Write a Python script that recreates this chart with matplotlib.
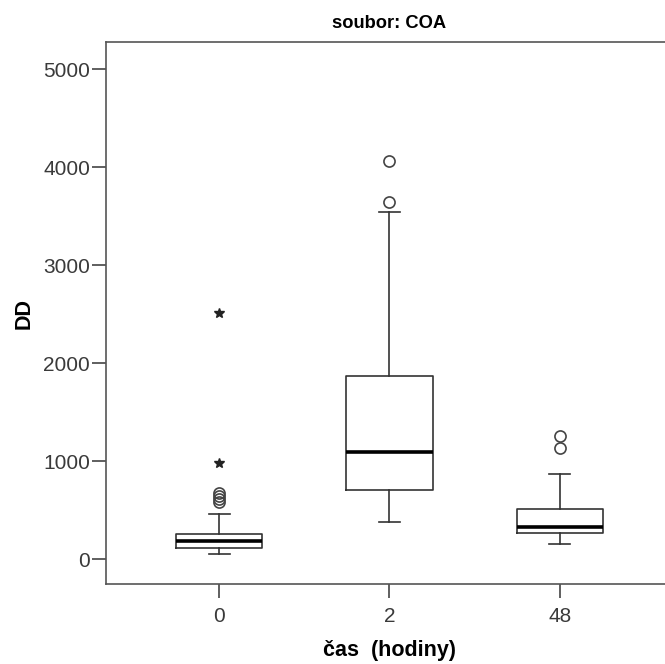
import matplotlib
matplotlib.use('Agg')
from matplotlib import pyplot as plt

plt.rcParams['font.family'] = ['Liberation Sans', 'DejaVu Sans']

groups = ['0', '2', '48']
whis_lo = [51, 378, 153]
q1 = [112, 705, 266]
med = [184, 1094, 327]
q3 = [256, 1871, 511]
whis_hi = [460, 3538, 869]
# mild outliers (circles) and extremes (stars) per group
mild = [[580, 610, 640, 670], [3640, 4059], [1135, 1258]]
extreme = [[982, 2515], [], []]

stats = []
for i, g in enumerate(groups):
    stats.append({'label': g, 'whislo': whis_lo[i], 'q1': q1[i], 'med': med[i],
                  'q3': q3[i], 'whishi': whis_hi[i], 'fliers': mild[i]})

fig = plt.figure(figsize=(6.65, 6.64), dpi=100)
ax = fig.add_axes([0.1594, 0.1205, 0.8526, 0.8162])

line = dict(color='#333333', linewidth=1.2)
ax.bxp(stats, positions=range(len(groups)), widths=0.506, capwidths=0.124,
       boxprops=line, whiskerprops=line, capprops=line,
       medianprops=dict(color='black', linewidth=2.6),
       flierprops=dict(marker='o', markersize=8, markerfacecolor='none',
                       markeredgecolor='#444444', markeredgewidth=1.2))

for i, vals in enumerate(extreme):
    if vals:
        ax.plot([i] * len(vals), vals, linestyle='none', marker='*',
                markersize=7, color='#222222')

ax.set_xlim(-0.665, 2.665)
ax.set_ylim(-255, 5276)
ax.set_yticks([0, 1000, 2000, 3000, 4000, 5000])
ax.set_xticks(range(len(groups)))
ax.set_xticklabels(groups)

for s in ax.spines.values():
    s.set_color('#555555')
    s.set_linewidth(1.2)
ax.tick_params(direction='out', length=10, width=1.2, color='#444444',
               labelsize=15, labelcolor='#3a3a3a')
ax.tick_params(axis='y', pad=1.5)
ax.tick_params(axis='x', pad=6.5)

ax.set_title('soubor: COA', fontsize=13.2, fontweight='bold', pad=10)
ax.set_xlabel('čas  (hodiny)', fontsize=15.5, fontweight='bold', labelpad=10)
ax.set_ylabel('DD', fontsize=15.5, fontweight='bold', labelpad=6)

fig.savefig('out.png', dpi=100)
